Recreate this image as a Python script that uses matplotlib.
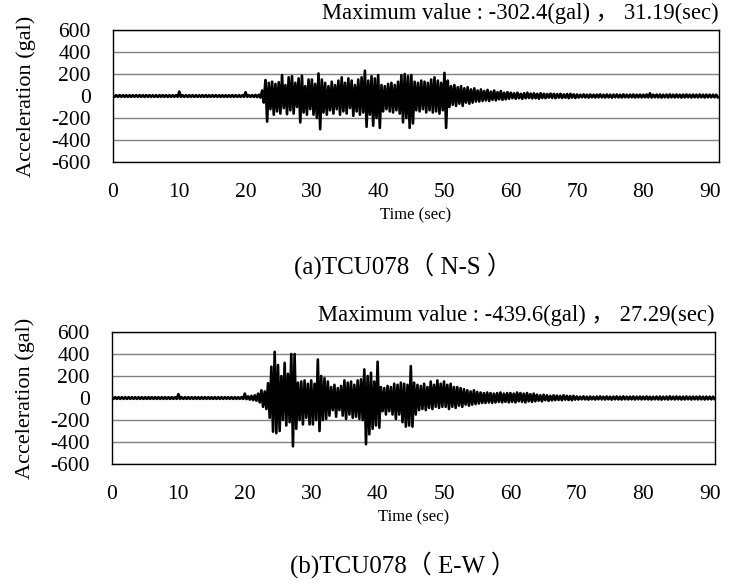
import numpy as np
import matplotlib
matplotlib.use('Agg')
import matplotlib.pyplot as plt

plt.rcParams['font.family'] = ['Liberation Serif', 'Noto Sans CJK SC']
plt.rcParams['axes.unicode_minus'] = False

# peak readings every 0.5 s (upper peak at t, lower peak at t + 0.25 s), gal
dt = 0.5

ns_upper = [
    8, 8, 8, 8, 8, 8, 8, 8, 8, 8, 8, 8, 8, 8, 8, 8, 8, 8, 8, 8,
    40, 8, 8, 8, 8, 8, 8, 8, 8, 8, 8, 8, 8, 8, 8, 8, 8, 8, 8, 8,
    35, 8, 8, 10, 12, 50, 145, 120, 130, 110, 125, 190, 100, 170, 180, 120, 160, 185, 90, 150,
    150, 110, 205, 150, 120, 90, 130, 100, 140, 170, 120, 160, 140, 100, 150, 170, 230, 140, 180, 160,
    190, 100, 90, 110, 120, 100, 130, 190, 200, 180, 190, 130, 120, 140, 130, 120, 150, 170, 140, 120,
    210, 140, 90, 100, 80, 90, 70, 80, 60, 70, 50, 60, 45, 55, 40, 50, 35, 45, 30, 35,
    30, 25, 30, 20, 25, 30, 22, 25, 20, 25, 20, 18, 22, 20, 18, 20, 15, 18, 20, 15,
    14, 12, 15, 12, 14, 12, 13, 15, 12, 14, 12, 13, 14, 12, 15, 12, 13, 14, 12, 13,
    12, 14, 25, 12, 13, 14, 12, 13, 15, 12, 14, 12, 13, 14, 12, 13, 12, 14, 12, 13,
    12, 12, 12,
]
ns_lower = [
    -8, -8, -8, -8, -8, -8, -8, -8, -8, -8, -8, -8, -8, -8, -8, -8, -8, -8, -8, -8,
    -8, -8, -8, -8, -8, -8, -8, -8, -8, -8, -8, -8, -8, -8, -8, -8, -8, -8, -8, -8,
    -8, -8, -8, -10, -15, -60, -233, -120, -170, -140, -160, -110, -165, -130, -160, -100, -240, -150, -170, -120,
    -170, -200, -302, -150, -170, -130, -160, -120, -170, -140, -160, -110, -180, -140, -170, -150, -280, -170, -270, -200,
    -290, -140, -120, -140, -150, -130, -160, -240, -200, -290, -250, -130, -140, -120, -150, -130, -150, -140, -160, -130,
    -290, -100, -80, -90, -70, -90, -60, -70, -60, -50, -50, -45, -40, -45, -35, -40, -30, -35, -30, -25,
    -20, -25, -20, -25, -20, -18, -22, -20, -25, -18, -20, -15, -18, -20, -15, -18, -15, -20, -15, -18,
    -14, -12, -13, -15, -12, -14, -12, -13, -14, -12, -15, -12, -13, -14, -12, -13, -12, -14, -12, -13,
    -12, -13, -14, -12, -13, -15, -12, -14, -12, -13, -12, -14, -13, -12, -14, -12, -13, -12, -14, -12,
    -12, -12, -12,
]

ew_upper = [
    8, 8, 8, 8, 8, 8, 8, 8, 8, 8, 8, 8, 8, 8, 8, 8, 8, 8, 8, 8,
    35, 8, 8, 8, 8, 8, 8, 8, 8, 8, 8, 8, 8, 8, 8, 8, 8, 8, 8, 8,
    40, 15, 20, 25, 40, 70, 60, 135, 285, 420, 300, 200, 320, 220, 400, 400, 140, 150, 160, 130,
    160, 130, 350, 200, 180, 150, 100, 120, 90, 110, 160, 140, 150, 120, 160, 170, 260, 200, 230, 150,
    330, 100, 90, 110, 100, 130, 120, 140, 130, 120, 290, 140, 120, 110, 130, 100, 150, 120, 160, 130,
    150, 120, 130, 100, 100, 90, 80, 70, 60, 70, 55, 50, 45, 50, 45, 40, 45, 50, 40, 45,
    45, 40, 50, 45, 40, 45, 35, 40, 30, 25, 30, 25, 20, 25, 22, 20, 25, 20, 18, 20,
    14, 12, 15, 12, 14, 12, 13, 15, 12, 14, 12, 13, 14, 12, 15, 12, 13, 14, 12, 13,
    12, 14, 12, 12, 13, 14, 12, 13, 15, 12, 14, 12, 13, 14, 12, 13, 12, 14, 12, 13,
    12, 12, 12,
]
ew_lower = [
    -8, -8, -8, -8, -8, -8, -8, -8, -8, -8, -8, -8, -8, -8, -8, -8, -8, -8, -8, -8,
    -8, -8, -8, -8, -8, -8, -8, -8, -8, -8, -8, -8, -8, -8, -8, -8, -8, -8, -8, -8,
    -10, -15, -20, -25, -40, -80, -100, -180, -306, -320, -300, -200, -250, -220, -439, -280, -200, -240, -180, -240,
    -240, -200, -300, -200, -190, -160, -110, -170, -110, -160, -190, -150, -180, -170, -190, -200, -420, -330, -280, -250,
    -270, -120, -150, -120, -150, -190, -150, -220, -260, -250, -260, -150, -110, -100, -110, -90, -100, -80, -90, -80,
    -80, -100, -80, -90, -70, -80, -60, -70, -60, -55, -50, -45, -45, -40, -45, -40, -35, -40, -35, -40,
    -35, -40, -30, -35, -40, -30, -35, -30, -25, -30, -20, -25, -22, -20, -18, -20, -15, -18, -20, -15,
    -14, -12, -13, -15, -12, -14, -12, -13, -14, -12, -15, -12, -13, -14, -12, -13, -12, -14, -12, -13,
    -12, -13, -14, -12, -13, -15, -12, -14, -12, -13, -12, -14, -13, -12, -14, -12, -13, -12, -14, -12,
    -12, -12, -12,
]

yticks = [-600, -400, -200, 0, 200, 400, 600]
xticks = [0, 10, 20, 30, 40, 50, 60, 70, 80, 90]

panels = [
    (ns_upper, ns_lower, 'Maximum value : -302.4(gal) \uff0c 31.19(sec)', '(a)TCU078\uff08 N-S \uff09'),
    (ew_upper, ew_lower, 'Maximum value : -439.6(gal) \uff0c 27.29(sec)', '(b)TCU078\uff08 E-W \uff09'),
]
# [left, bottom, width, height, xmax, caption y] in figure fractions
boxes = [
    [0.1548, 0.724, 0.830, 0.2249, 91.4, 0.547],
    [0.1534, 0.2095, 0.826, 0.2249, 90.8, 0.0375],
]

fig = plt.figure(figsize=(7.3, 5.87), dpi=100)

for (up, lo, title, caption), box in zip(panels, boxes):
    ax = fig.add_axes(box[:4])
    t = np.arange(len(up)) * dt
    x = np.column_stack([t, t + dt / 2]).ravel()
    y = np.column_stack([up, lo]).ravel()
    ax.plot(x, y, color='black', lw=1.9)
    ax.set_xlim(0, box[4])
    ax.set_ylim(-600, 600)
    ax.set_yticks(yticks)
    ax.set_xticks(xticks)
    ax.grid(axis='y', color='#808080', lw=1)
    ax.set_axisbelow(True)
    ax.tick_params(length=0, labelsize=15.5)
    ax.tick_params(axis='y', pad=16)
    ax.tick_params(axis='x', pad=15)
    for s in ax.spines.values():
        s.set_color('black')
        s.set_linewidth(1)
    ax.set_xlabel('Time (sec)', fontsize=12)
    ax.xaxis.set_label_coords(0.5, -0.34)
    ax.set_ylabel('Acceleration (gal)', fontsize=16)
    ax.yaxis.set_label_coords(-0.127, 0.5)
    ax.set_title(title, loc='right', fontsize=16.3, pad=8)
    fig.text(0.552, box[5], caption, ha='center', va='center', fontsize=18)

fig.savefig('out.png', dpi=100)
